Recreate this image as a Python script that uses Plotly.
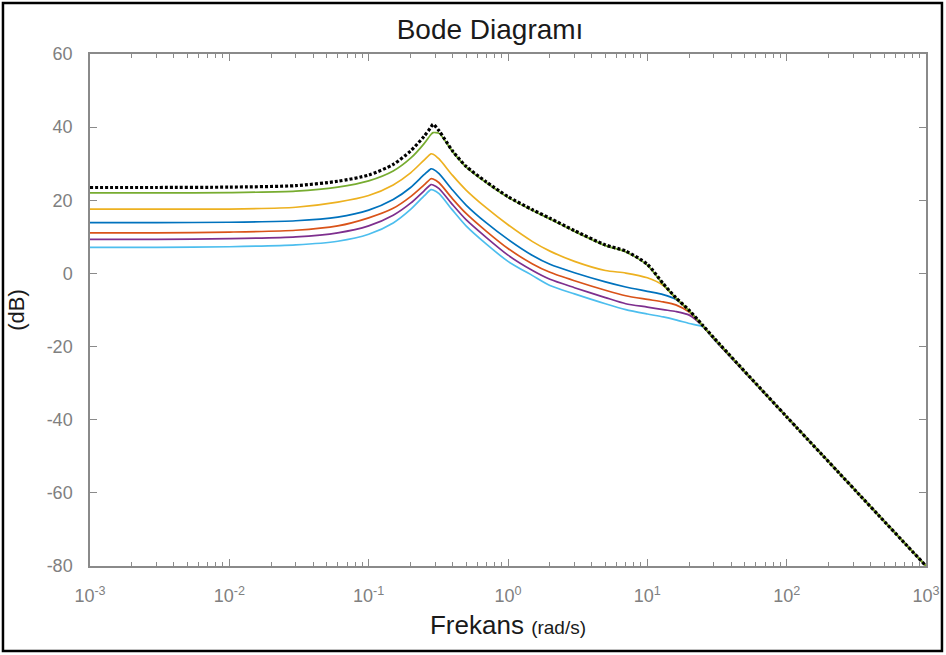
import plotly.graph_objects as go

# Frequency samples (rad/s)
freq = [0.001, 0.003, 0.01, 0.03, 0.06, 0.1, 0.15, 0.2, 0.25, 0.28, 0.29, 0.32, 0.4, 0.5, 0.7,
        1, 1.5, 2, 3, 5, 7, 10, 13, 16, 20, 25, 30, 100, 1000]

# Magnitudes (dB)
mag_black = [23.5, 23.5, 23.6, 24.0, 25.2, 26.9, 29.8, 33.5, 37.5, 40.0, 40.8, 39.0, 33.5, 29.3, 25.0,
             21.0, 17.4, 15.1, 11.7, 7.8, 6.1, 2.5, -2.8, -6.6, -10.1, -14.2, -17.6, -39.2, -80.0]
mag_green = [22.0, 22.0, 22.1, 22.5, 23.6, 25.3, 28.0, 31.5, 35.5, 38.0, 38.5, 38.3, 33.3, 29.1, 24.8,
             20.8, 17.2, 14.9, 11.5, 7.6, 5.9, 2.3, -3.0, -6.7, -10.2, -14.3, -17.7, -39.2, -80.0]
mag_yellow = [17.6, 17.6, 17.6, 18.1, 19.5, 21.3, 24.2, 27.5, 31.0, 32.7, 32.6, 31.3, 26.8, 22.8, 17.9,
              13.3, 8.7, 6.1, 3.3, 0.8, 0.1, -1.2, -3.3, -6.8, -10.3, -14.3, -17.7, -39.2, -80.0]
mag_blue = [13.9, 13.9, 14.0, 14.4, 15.4, 17.3, 20.2, 23.5, 27.0, 28.6, 28.5, 27.3, 22.8, 18.7, 13.8,
            9.3, 4.9, 2.5, 0.2, -2.3, -3.7, -4.9, -5.8, -7.1, -10.3, -14.3, -17.7, -39.2, -80.0]
mag_red = [11.1, 11.1, 11.3, 11.8, 13.0, 15.2, 17.8, 21.0, 24.2, 25.9, 25.8, 24.8, 20.4, 16.4, 11.5,
           6.8, 2.6, 0.3, -2.0, -4.6, -6.1, -7.1, -7.8, -8.6, -10.6, -14.3, -17.8, -39.2, -80.0]
mag_purple = [9.3, 9.3, 9.5, 10.0, 11.1, 13.0, 15.9, 19.2, 22.6, 24.3, 24.2, 23.2, 18.8, 14.7, 9.8,
              5.0, 0.8, -1.6, -3.9, -6.6, -8.3, -9.2, -9.9, -10.4, -11.4, -14.4, -17.9, -39.2, -80.0]
mag_lightblue = [7.1, 7.1, 7.3, 7.8, 8.8, 10.7, 13.8, 17.5, 21.2, 22.9, 22.8, 21.8, 17.3, 13.0, 8.0,
                 3.3, -0.6, -3.3, -5.6, -8.3, -9.9, -11.1, -11.9, -12.7, -13.7, -14.6, -18.0, -39.2, -80.0]

x_tickvals = [1e-3, 1e-2, 1e-1, 1e0, 1e1, 1e2, 1e3]
x_ticktext = ["10<sup>-3</sup>", "10<sup>-2</sup>", "10<sup>-1</sup>", "10<sup>0</sup>",
              "10<sup>1</sup>", "10<sup>2</sup>", "10<sup>3</sup>"]
y_tickvals = [-80, -60, -40, -20, 0, 20, 40, 60]
y_ticktext = ["-80", "-60", "-40", "-20", "0", "20", "40", "60"]

series = [
    ("lightblue", mag_lightblue, "#4DBEEE"),
    ("purple", mag_purple, "#7E2F8E"),
    ("red", mag_red, "#D95319"),
    ("blue", mag_blue, "#0072BD"),
    ("yellow", mag_yellow, "#EDB120"),
    ("green", mag_green, "#77AC30"),
]

fig = go.Figure()
for name, vals, col in series:
    fig.add_trace(go.Scatter(x=freq, y=vals, mode="lines", name=name,
                             line=dict(color=col, width=1.7, shape="spline", smoothing=0.7)))
fig.add_trace(go.Scatter(x=freq, y=mag_black, mode="lines", name="black",
                         line=dict(color="#000000", width=3.2, dash="3px,2px",
                                   shape="spline", smoothing=0.7)))

FONT = "Liberation Sans Narrow, Arial Narrow, Liberation Sans, Arial, sans-serif"
axis_col = "#8a8a8a"

fig.update_layout(
    width=946, height=655,
    margin=dict(l=90, r=20, t=54, b=89, autoexpand=False),
    paper_bgcolor="white", plot_bgcolor="white",
    showlegend=False,
    font=dict(family=FONT, color="#808080", size=18),
    title=dict(text="Bode Diagramı", x=0.518, xanchor="center", y=0.955, yanchor="middle",
               font=dict(family=FONT, size=28, color="#1a1a1a")),
)
fig.update_xaxes(
    type="log", range=[-3, 3], automargin=False,
    tickvals=x_tickvals, ticktext=x_ticktext,
    ticks="inside", ticklen=7, tickcolor=axis_col,
    showline=True, linecolor=axis_col, linewidth=1.5, mirror="ticks",
    showgrid=False, zeroline=False, ticklabelstandoff=13,
    tickfont=dict(size=18, color="#808080", family=FONT),
    minor=dict(ticks="inside", ticklen=4, tickcolor=axis_col, dtick="D1", showgrid=False),
    title=dict(text="Frekans <span style='font-size:19px'>(rad/s)</span>",
               font=dict(size=26, color="#1a1a1a", family=FONT), standoff=10),
)
fig.update_yaxes(
    range=[-80, 60], automargin=False, tickvals=y_tickvals, ticktext=y_ticktext,
    ticks="inside", ticklen=7, tickcolor=axis_col,
    showline=True, linecolor=axis_col, linewidth=1.5, mirror="ticks",
    showgrid=False, zeroline=False, ticklabelstandoff=12,
    tickfont=dict(size=18, color="#808080", family=FONT),
    title=dict(text="(dB)", font=dict(size=22, color="#1a1a1a", family=FONT), standoff=16),
)

# outer black frame around the whole figure
fig.add_shape(type="rect", xref="paper", yref="paper",
              x0=-0.1041, x1=1.0191, y0=-0.166, y1=1.0996,
              line=dict(color="black", width=2.5), fillcolor="rgba(0,0,0,0)", layer="above")

fig.write_html("out.html", config={"displayModeBar": False},
               post_script="document.body.style.margin='0';")
